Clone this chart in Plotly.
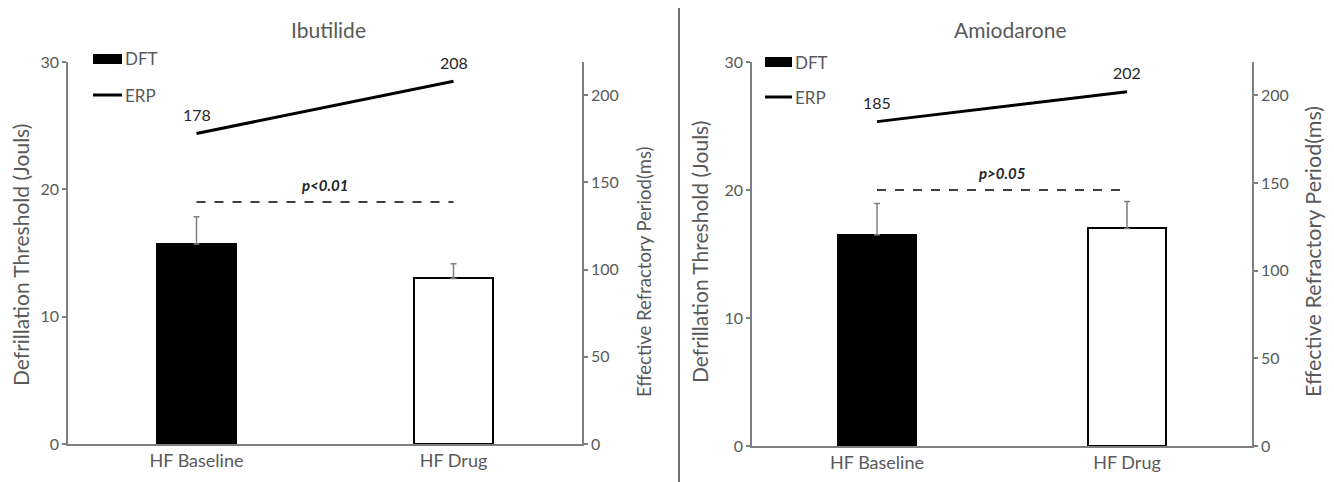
import plotly.graph_objects as go

W, H = 1334, 482
OFF = 8  # page body margin in the browser

# ---------------- data ----------------
categories = ["HF Baseline", "HF Drug"]
panel_titles = ["Ibutilide", "Amiodarone"]

ibu_dft = [15.7, 13.0]
ibu_dft_err = [2.15, 1.15]
ibu_erp = [178, 208]

amio_dft = [16.5, 17.0]
amio_dft_err = [2.45, 2.1]
amio_erp = [185, 202]

p_labels = ["p<0.01", "p>0.05"]
p_line_levels = [19.0, 20.0]

left_ticks = [0, 10, 20, 30]
right_ticks = [0, 50, 100, 150, 200]

# ---------------- style ----------------
FONT = "Lato"
GRAY = "#595959"
AXIS = "#7f7f7f"

def px_x(x):
    return (x - OFF) / W

def px_y(y):
    return 1 - (y - OFF) / H

fig = go.Figure()

panels = [
    dict(dft=ibu_dft, err=ibu_dft_err, erp=ibu_erp, x="x", y="y", y2="y2",
         dom=[px_x(68), px_x(582)], ydom=[px_y(444), px_y(62)]),
    dict(dft=amio_dft, err=amio_dft_err, erp=amio_erp, x="x2", y="y3", y2="y4",
         dom=[px_x(752), px_x(1252)], ydom=[px_y(446), px_y(62)]),
]

for i, p in enumerate(panels):
    fig.add_trace(go.Bar(
        x=categories, y=p["dft"], xaxis=p["x"], yaxis=p["y"],
        width=0.31,
        marker=dict(color=["black", "white"], line=dict(color="black", width=2)),
        error_y=dict(type="data", array=p["err"], arrayminus=[0, 0], symmetric=False,
                     color=AXIS, thickness=1.5, width=3),
        showlegend=False, name="DFT",
    ))
    fig.add_trace(go.Scatter(
        x=categories, y=p["erp"], xaxis=p["x"], yaxis=p["y2"],
        mode="lines", line=dict(color="black", width=3),
        showlegend=False, name="ERP",
    ))

layout = dict(
    width=W, height=H,
    margin=dict(l=0, r=0, t=0, b=0, pad=0, autoexpand=False),
    paper_bgcolor="white", plot_bgcolor="white",
    font=dict(family=FONT, color=GRAY, size=14),
    bargap=0,
    showlegend=False,
)

axis_common_y = dict(
    showgrid=False, zeroline=False, showline=True, linecolor=AXIS, linewidth=1.5,
    ticks="outside", ticklen=4, tickcolor=AXIS, tickwidth=1.5, automargin=False,
    tickfont=dict(family=FONT, size=16, color=GRAY),
)
axis_common_x = dict(
    type="category", range=[-0.5, 1.5], showgrid=False, zeroline=False,
    showline=True, linecolor=AXIS, linewidth=1.5, ticks="", automargin=False,
    tickfont=dict(family=FONT, size=18, color=GRAY),
)

layout["xaxis"] = dict(axis_common_x, domain=panels[0]["dom"], anchor="y")
layout["yaxis"] = dict(axis_common_y, domain=panels[0]["ydom"], anchor="x",
                       range=[0, 30], tickvals=left_ticks)
layout["yaxis2"] = dict(axis_common_y, overlaying="y", side="right", anchor="x",
                        range=[0, 219], tickvals=right_ticks)
layout["xaxis2"] = dict(axis_common_x, domain=panels[1]["dom"], anchor="y3")
layout["yaxis3"] = dict(axis_common_y, domain=panels[1]["ydom"], anchor="x2",
                        range=[0, 30], tickvals=left_ticks)
layout["yaxis4"] = dict(axis_common_y, overlaying="y3", side="right", anchor="x2",
                        range=[0, 219], tickvals=right_ticks)
fig.update_layout(**layout)

shapes = []
annotations = []

legend_pos = [dict(x0=93, x1=122, box_y0=54, box_y1=64, line_y=95),
              dict(x0=765, x1=792, box_y0=57, box_y1=67, line_y=97)]
title_pos = [(328, 30), (1010, 30)]
ytitle_left = [dict(x=21, y=255, size=21), dict(x=699, y=252, size=21)]
ytitle_right = [dict(x=644, y=272, size=18.5), dict(x=1313, y=252, size=21.5)]

def txt(**kw):
    d = dict(showarrow=False, xanchor="center", yanchor="middle")
    d.update(kw)
    return d

for i, p in enumerate(panels):
    # p-value dashed line and label
    shapes.append(dict(type="line", xref=p["x"], yref=p["y"], x0=0, x1=1,
                       y0=p_line_levels[i], y1=p_line_levels[i],
                       line=dict(color="black", width=1.5, dash="dash")))
    annotations.append(txt(xref=p["x"], yref=p["y"], x=0.5, y=p_line_levels[i],
                           yshift=17, text="<b><i>" + p_labels[i] + "</i></b>",
                           font=dict(family=FONT, size=15, color="#262626")))
    # ERP data labels
    for c, v in zip(categories, p["erp"]):
        annotations.append(txt(xref=p["x"], yref=p["y2"], x=c, y=v, yshift=19,
                               text=str(v), font=dict(family=FONT, size=16, color="#262626")))
    # panel title
    tx, ty = title_pos[i]
    annotations.append(txt(xref="paper", yref="paper", x=px_x(tx), y=px_y(ty),
                           text=panel_titles[i], font=dict(family=FONT, size=21, color=GRAY)))
    # axis titles
    tl = ytitle_left[i]
    annotations.append(txt(xref="paper", yref="paper", x=px_x(tl["x"]), y=px_y(tl["y"]),
                           text="Defrillation Threshold (Jouls)", textangle=-90,
                           font=dict(family=FONT, size=tl["size"], color=GRAY)))
    tr = ytitle_right[i]
    annotations.append(txt(xref="paper", yref="paper", x=px_x(tr["x"]), y=px_y(tr["y"]),
                           text="Effective Refractory Period(ms)", textangle=-90,
                           font=dict(family=FONT, size=tr["size"], color=GRAY)))
    # legend
    lg = legend_pos[i]
    shapes.append(dict(type="rect", xref="paper", yref="paper",
                       x0=px_x(lg["x0"]), x1=px_x(lg["x1"]),
                       y0=px_y(lg["box_y1"]), y1=px_y(lg["box_y0"]),
                       fillcolor="black", line=dict(width=0)))
    shapes.append(dict(type="line", xref="paper", yref="paper",
                       x0=px_x(lg["x0"]), x1=px_x(lg["x1"]),
                       y0=px_y(lg["line_y"]), y1=px_y(lg["line_y"]),
                       line=dict(color="black", width=3)))
    annotations.append(txt(xref="paper", yref="paper", x=px_x(lg["x1"] + 1),
                           y=px_y((lg["box_y0"] + lg["box_y1"]) / 2), xanchor="left",
                           text="DFT", font=dict(family=FONT, size=17, color=GRAY)))
    annotations.append(txt(xref="paper", yref="paper", x=px_x(lg["x1"] + 1),
                           y=px_y(lg["line_y"]), xanchor="left",
                           text="ERP", font=dict(family=FONT, size=17, color=GRAY)))

# separator between panels
shapes.append(dict(type="line", xref="paper", yref="paper",
                   x0=px_x(679), x1=px_x(679), y0=px_y(482), y1=px_y(5),
                   line=dict(color="#404040", width=1.5)))

fig.update_layout(shapes=shapes, annotations=annotations)
fig.write_html("out.html")
